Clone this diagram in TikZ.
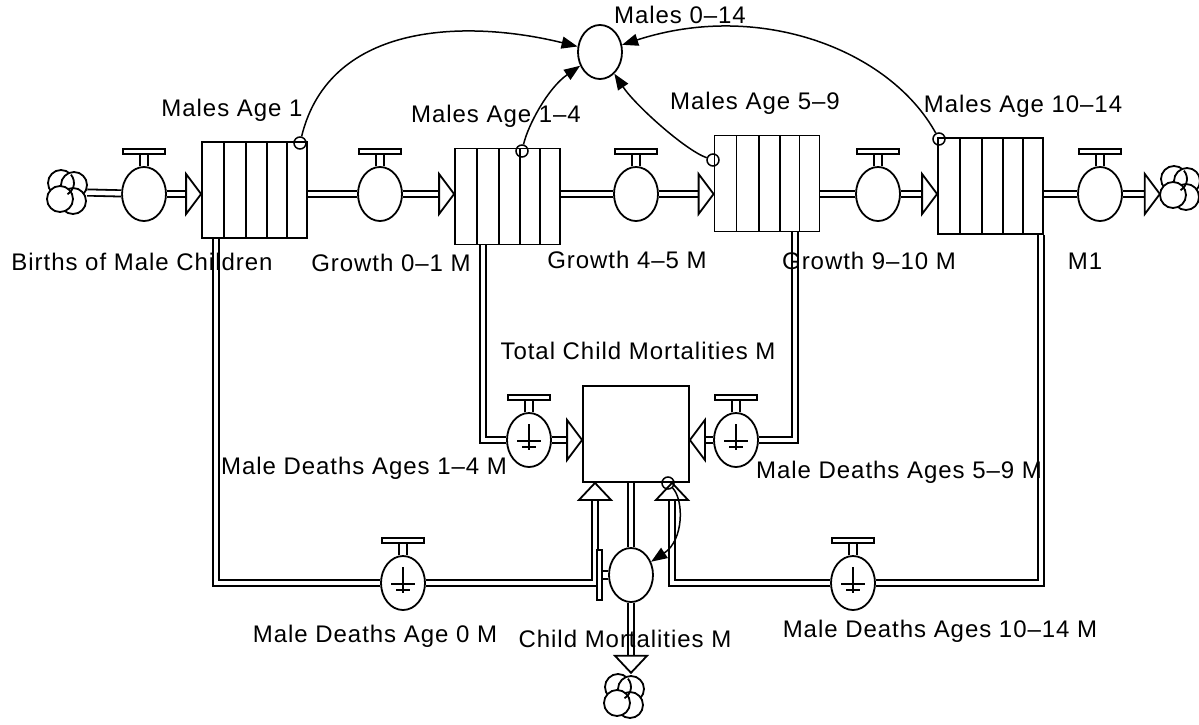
\documentclass[tikz,border=0pt]{standalone}
\usepackage{fontspec}
\setmainfont{Liberation Sans}[LetterSpace=4]
\usetikzlibrary{shapes.geometric,arrows.meta,calc}
\newcommand{\valvedeco}[1]{%
  \draw[line width=1.6pt] ($(#1.north)+(-4,0)$) -- ++(0,-12) ($(#1.north)+(4,0)$) -- ++(0,-12);
  \draw[line width=1.6pt, fill=white] ($(#1.north)+(-21,-12)$) rectangle ($(#1.north)+(21,-17)$);
}
\newcommand{\groundsym}[1]{%
  \draw[line width=1.5pt] ($(#1)+(0,-16)$) -- ($(#1)+(0,10)$);
  \draw[line width=1.5pt] ($(#1)+(-12,1)$) -- ($(#1)+(12,1)$);
  \draw[line width=1.5pt] ($(#1)+(-7,7)$) -- ($(#1)+(7,7)$);
}
\begin{document}
\begin{tikzpicture}[x=1pt,y=-1pt,
  every node/.style={font=\fontsize{24}{28}\selectfont},
  stock/.style={draw, line width=1.8pt, fill=white, rectangle, minimum width=105pt, minimum height=96pt, inner sep=0pt,
     path picture={\foreach \f in {0.21,0.42,0.62,0.81}{\draw[line width=1.8pt] ($(path picture bounding box.north west)!\f!(path picture bounding box.north east)$) -- ($(path picture bounding box.south west)!\f!(path picture bounding box.south east)$);}}},
  valve/.style={draw, ellipse, line width=1.8pt, fill=white, minimum width=44pt, minimum height=54pt, inner sep=0pt},
  boxstock/.style={draw, rectangle, line width=1.8pt, fill=white, minimum width=106pt, minimum height=96pt, inner sep=0pt},
  cloudbox/.style={rectangle, minimum width=40pt, minimum height=46pt, inner sep=0pt},
  orig/.style={circle, draw, line width=1.5pt, minimum size=12pt, inner sep=0pt},
  conn/.style={line width=1.5pt, -{Triangle[length=16pt, width=12pt]}},
  pipe/.style={line width=1.8pt, double=white, double distance=4.5pt},
  pics/headA/.style={code={\draw[fill=white, line width=1.8pt, line join=miter] (0,0) -- (-15,-20) -- (-15,20) -- cycle;}},
  pics/headB/.style={code={\draw[fill=white, line width=1.8pt, line join=miter] (0,0) -- (-17,-16) -- (-17,16) -- cycle;}},
  pics/cloudy/.style={code={\foreach \a/\b in {-6/-9, 7/-7, 6/9, -7/7} {\draw[fill=white, line width=1.8pt] (\a,\b) circle[radius=13pt];}
     \draw[line width=1.8pt] (-6,-9) ++(40:13pt) arc[start angle=40, end angle=-60, radius=13pt];}}
]
\useasboundingbox (0,0) rectangle (1199,725);

% stocks
\node[stock] (s1) at (254.5,190) {};
\node[stock] (s2) at (507.5,196.5) {};
\node[stock] (s3) at (767,183.5) {};
\node[stock] (s4) at (990.5,186) {};
\node[boxstock] (tb) at (636,434) {};

% clouds
\node[cloudbox] (c0) at (67,192) {};
\node[cloudbox] (c5) at (1180,188) {};
\node[cloudbox] (cB) at (624,696) {};
\pic at (c0) {cloudy};
\pic at (c5) {cloudy};
\pic at (cB) {cloudy};

% valves
\node[valve] (v1) at (144,194) {};
\node[valve] (v2) at (380,194) {};
\node[valve] (v3) at (636,194) {};
\node[valve] (v4) at (878,194) {};
\node[valve] (v5) at (1100,194) {};
\node[valve] (vd14) at (529,440) {};
\node[valve] (vd59) at (736,440) {};
\node[valve] (vd0) at (403,583) {};
\node[valve] (vd1014) at (853,583) {};
\node[valve] (vcm) at (631,575) {};
\node[valve] (m0) at (600,52) {};

% top row pipes
\draw[pipe] (c0) -- (v1);
\draw[pipe, shorten >=15pt] (v1) -- (s1.west |- v1);
\pic at (s1.west |- v1) {headA};
\draw[pipe] (s1.east |- v2) -- (v2);
\draw[pipe, shorten >=15pt] (v2) -- (s2.west |- v2);
\pic at (s2.west |- v2) {headA};
\draw[pipe] (s2.east |- v3) -- (v3);
\draw[pipe, shorten >=15pt] (v3) -- (s3.west |- v3);
\pic at (s3.west |- v3) {headA};
\draw[pipe] (s3.east |- v4) -- (v4);
\draw[pipe, shorten >=15pt] (v4) -- (s4.west |- v4);
\pic at (s4.west |- v4) {headA};
\draw[pipe] (s4.east |- v5) -- (v5);
\draw[pipe, shorten >=15pt] (v5) -- (c5.west |- v5);
\pic at (c5.west |- v5) {headA};

% death pipes
\coordinate (k1) at (483,440);
\coordinate (k2) at (795,440);
\coordinate (k5) at (216,583);
\coordinate (k6) at (1041,583);
\coordinate (k3) at (595,583);
\coordinate (k4) at (672,583);
\draw[pipe] (s2.south -| k1) |- (vd14);
\draw[pipe, shorten >=16pt] (vd14) -- (tb.west |- vd14);
\pic at (tb.west |- vd14) {headA};
\draw[pipe] (s3.south -| k2) |- (vd59);
\draw[pipe, shorten >=16pt] (vd59) -- (tb.east |- vd59);
\pic[rotate=180] at (tb.east |- vd59) {headA};
\draw[pipe] (s1.south -| k5) |- (vd0);
\draw[pipe, shorten >=17pt] (vd0) -| (tb.south -| k3);
\pic[rotate=90] at (tb.south -| k3) {headB};
\draw[pipe] (s4.south -| k6) |- (vd1014);
\draw[pipe, shorten >=17pt] (vd1014) -| (tb.south -| k4);
\pic[rotate=90] at (tb.south -| k4) {headB};
\draw[pipe] (tb.south -| vcm) -- (vcm);
\draw[pipe, shorten >=17pt] (vcm) -- (cB.north -| vcm);
\pic[rotate=-90] at (cB.north -| vcm) {headB};

% valve decorations
\foreach \v in {v1,v2,v3,v4,v5,vd14,vd59,vd0,vd1014} {\valvedeco{\v}}
\foreach \v in {vd14,vd59,vd0,vd1014} {\groundsym{\v}}
\draw[line width=1.6pt] ($(vcm.west)+(0,-4)$) -- ++(-6,0) ($(vcm.west)+(0,4)$) -- ++(-6,0);
\draw[line width=1.6pt, fill=white] ($(vcm.west)+(-6,-25)$) rectangle ($(vcm.west)+(-11,25)$);

% connector origins
\node[orig] (o1) at (300,143) {};
\node[orig] (o2) at (522,151) {};
\node[orig] (o3) at (713,160) {};
\node[orig] (o4) at (939,139) {};
\node[orig] (o5) at (668,483) {};

% connectors
\draw[conn] (o1) .. controls (330,20) and (470,20) .. (m0);
\draw[conn] (o2) .. controls (528,125) and (548,88) .. (m0);
\draw[conn] (o3) .. controls (685,150) and (635,105) .. (m0);
\draw[conn] (o4) .. controls (890,50) and (760,0) .. (m0);
\draw[conn] (o5) .. controls (684,500) and (684,540) .. (vcm);

% labels
\node (l0) at (680,15) {Males 0–14};
\node (l1) at (232,110) {Males Age 1};
\node (l2) at (496,116) {Males Age 1–4};
\node (l3) at (755,103) {Males Age 5–9};
\node (l4) at (1023,106) {Males Age 10–14};
\node (l5) at (142,262) {Births of Male Children};
\node (l6) at (391,263) {Growth 0–1 M};
\node (l7) at (627,260) {Growth 4–5 M};
\node (l8) at (869,261) {Growth 9–10 M};
\node (l9) at (1085,261) {M1};
\node (l10) at (638,351) {Total Child Mortalities M};
\node (l11) at (364,468) {Male Deaths Ages 1–4 M};
\node (l12) at (899,472) {Male Deaths Ages 5–9 M};
\node (l13) at (375,636) {Male Deaths Age 0 M};
\node (l14) at (625,639) {Child Mortalities M};
\node (l15) at (940,631) {Male Deaths Ages 10–14 M};
\end{tikzpicture}
\end{document}
